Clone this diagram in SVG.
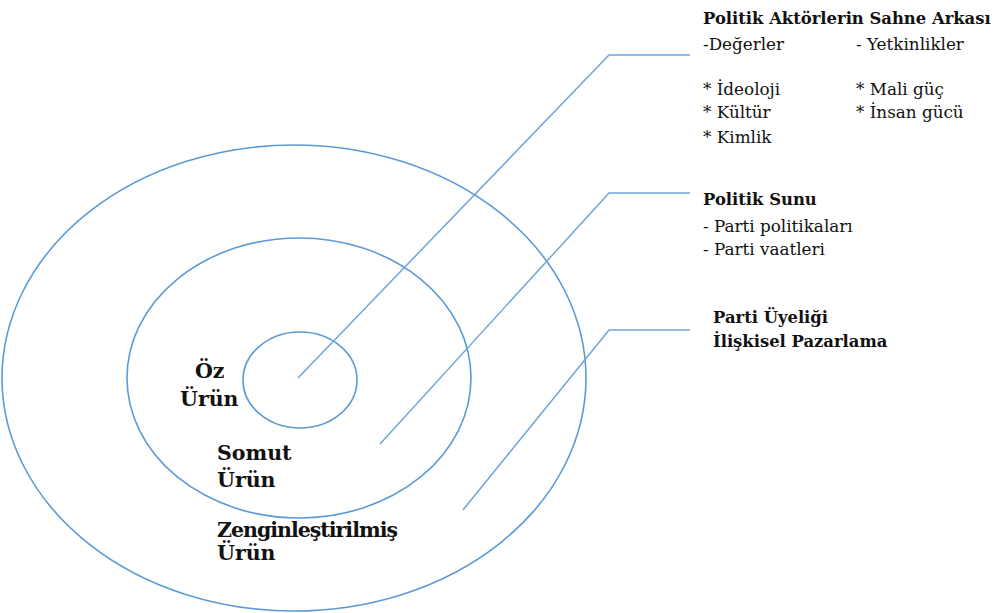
<svg xmlns="http://www.w3.org/2000/svg" width="999" height="613" viewBox="0 0 999 613">
  <style>
    .ring { fill: none; stroke: #5b9bd5; stroke-width: 1.6; }
    .lead { fill: none; stroke: #6fa5da; stroke-width: 1.5; }
    .t { font-family: "DejaVu Serif", "Liberation Serif", serif; fill: #111; }
    .side { font-size: 16.8px; }
    .hd { font-size: 16.4px; font-weight: bold; }
    .core { font-size: 20.5px; font-weight: bold; }
  </style>
  <rect width="999" height="613" fill="#fff"/>

  <!-- concentric product levels -->
  <g id="ring-augmented"><ellipse class="ring" cx="294" cy="378" rx="292" ry="233"/></g>
  <g id="ring-actual"><ellipse class="ring" cx="299" cy="378" rx="172" ry="140"/></g>
  <g id="ring-core"><ellipse class="ring" cx="300" cy="380" rx="57" ry="48"/></g>

  <!-- leader lines -->
  <g id="connectors">
    <polyline class="lead" points="298,378 609,55 690,55"/>
    <polyline class="lead" points="380,444 609,193 690,193"/>
    <polyline class="lead" points="463,510 609,330 690,330"/>
  </g>

  <!-- ring labels -->
  <g id="label-core" class="t core">
    <text x="195" y="378">Öz</text>
    <text x="180" y="406">Ürün</text>
  </g>
  <g id="label-actual" class="t core">
    <text x="217" y="460">Somut</text>
    <text x="217" y="487">Ürün</text>
  </g>
  <g id="label-augmented" class="t core">
    <text x="217" y="537" letter-spacing="-1">Zenginleştirilmiş</text>
    <text x="217" y="560">Ürün</text>
  </g>

  <!-- side notes -->
  <g id="note-backstage" class="t side">
    <text class="hd" x="703" y="24">Politik Aktörlerin Sahne Arkası</text>
    <text x="703" y="50">-Değerler</text>
    <text x="856" y="50">- Yetkinlikler</text>
    <text x="703" y="95">* İdeoloji</text>
    <text x="856" y="95">* Mali güç</text>
    <text x="703" y="118">* Kültür</text>
    <text x="856" y="118">* İnsan gücü</text>
    <text x="703" y="143">* Kimlik</text>
  </g>
  <g id="note-offer" class="t side">
    <text class="hd" x="703" y="205">Politik Sunu</text>
    <text x="703" y="232">- Parti politikaları</text>
    <text x="703" y="255">- Parti vaatleri</text>
  </g>
  <g id="note-membership" class="t side">
    <text class="hd" x="713" y="323">Parti Üyeliği</text>
    <text class="hd" x="713" y="347">İlişkisel Pazarlama</text>
  </g>
</svg>
